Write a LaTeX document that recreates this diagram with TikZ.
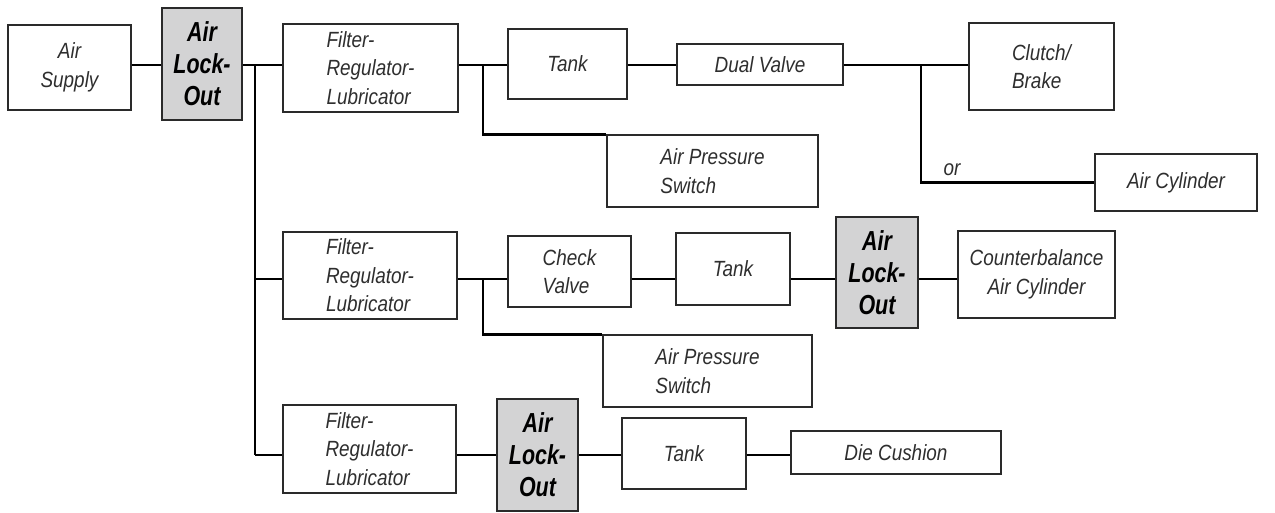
\documentclass[tikz,border=0pt]{standalone}
\usepackage{fontspec}
\newfontfamily\txtfont{Liberation Sans}[FakeStretch=0.86]
\newfontfamily\alofont{Liberation Sans}[FakeStretch=0.78]
\definecolor{lockgray}{HTML}{D3D3D4}
\definecolor{edge}{HTML}{2A2A2A}
\definecolor{ink}{HTML}{2E2E2E}
\begin{document}
\begin{tikzpicture}[x=1pt,y=-1pt,
  box/.style={draw=edge,line width=1.2pt,fill=white,inner sep=0pt,align=left,
    text=ink,font=\txtfont\itshape\fontsize{22}{28.5}\selectfont},
  cbox/.style={box,align=center},
  lockbox/.style={box,fill=lockgray,align=center,text=black,
    font=\alofont\bfseries\itshape\fontsize{27.5}{32}\selectfont},
  conn/.style={draw=black,line width=2.4pt},
  lbl/.style={inner sep=0pt,text=ink,font=\txtfont\itshape\fontsize{22}{24}\selectfont}]
\useasboundingbox (0,0) rectangle (1275,512);
% rows and junctions
\coordinate (r1) at (0,65);
\coordinate (r2) at (0,279);
\coordinate (r3) at (0,455);
\coordinate (jm) at (255,65);
\coordinate (ja) at (483,65);
\coordinate (jb) at (921,65);
\coordinate (jc) at (483,279);
% main vertical (drawn first, boxes on top)
\draw[conn] (jm) -- (jm|-r3);
% boxes row 1
\node[cbox,minimum width=123,minimum height=85] (sup) at (69.5,67.5) {Air\\Supply};
\node[lockbox,minimum width=80,minimum height=112] (alo1) at (202,64) {Air\\Lock-\\Out};
\node[box,minimum width=175,minimum height=88] (frl1) at (370.5,68) {Filter-\\Regulator-\\Lubricator};
\node[cbox,minimum width=119,minimum height=70] (tank1) at (567.5,64) {Tank};
\node[cbox,minimum width=166,minimum height=41] (dv) at (760,64.5) {Dual Valve};
\node[box,minimum width=145,minimum height=87] (cb) at (1041.5,66.5) {Clutch/\\Brake};
\node[cbox,minimum width=162,minimum height=57] (ac) at (1176,182.5) {Air Cylinder};
\node[box,minimum width=211,minimum height=72] (aps1) at (712.5,171) {Air Pressure\\Switch};
\node[lbl] (or) at (952,170) {or};
% row 2
\node[box,minimum width=174,minimum height=87] (frl2) at (370,275.5) {Filter-\\Regulator-\\Lubricator};
\node[box,minimum width=123,minimum height=71] (cv) at (569.5,271.5) {Check\\Valve};
\node[cbox,minimum width=114,minimum height=72] (tank2) at (733,269) {Tank};
\node[lockbox,minimum width=82,minimum height=111] (alo2) at (877,272.5) {Air\\Lock-\\Out};
\node[cbox,minimum width=157,minimum height=87] (cbal) at (1036.5,274.5) {Counterbalance\\Air Cylinder};
\node[box,minimum width=209,minimum height=72] (aps2) at (707.5,371) {Air Pressure\\Switch};
% row 3
\node[box,minimum width=173,minimum height=88] (frl3) at (369.5,449) {Filter-\\Regulator-\\Lubricator};
\node[lockbox,minimum width=81,minimum height=112] (alo3) at (537.5,455) {Air\\Lock-\\Out};
\node[cbox,minimum width=124,minimum height=71] (tank3) at (684,453.5) {Tank};
\node[cbox,minimum width=210,minimum height=43] (dc) at (896,452.5) {Die Cushion};
% connectors row 1
\draw[conn] (sup.east|-r1) -- (alo1.west|-r1);
\draw[conn] (alo1.east|-r1) -- (frl1.west|-r1);
\draw[conn] (frl1.east|-r1) -- (tank1.west|-r1);
\draw[conn] (ja) |- (aps1.north west);
\draw[conn] (tank1.east|-r1) -- (dv.west|-r1);
\draw[conn] (dv.east|-r1) -- (cb.west|-r1);
\draw[conn] (jb) |- (ac.west);
% row 2
\draw[conn] (jm|-r2) -- (frl2.west|-r2);
\draw[conn] (frl2.east|-r2) -- (cv.west|-r2);
\draw[conn] (jc) |- (aps2.north west);
\draw[conn] (cv.east|-r2) -- (tank2.west|-r2);
\draw[conn] (tank2.east|-r2) -- (alo2.west|-r2);
\draw[conn] (alo2.east|-r2) -- (cbal.west|-r2);
% row 3
\draw[conn] (jm|-r3) -- (frl3.west|-r3);
\draw[conn] (frl3.east|-r3) -- (alo3.west|-r3);
\draw[conn] (alo3.east|-r3) -- (tank3.west|-r3);
\draw[conn] (tank3.east|-r3) -- (dc.west|-r3);
\end{tikzpicture}
\end{document}
